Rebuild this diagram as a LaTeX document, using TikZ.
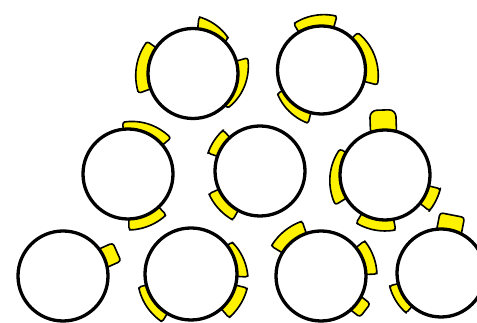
\documentclass[tikz,border=0pt]{standalone}
\begin{document}
\begin{tikzpicture}[x=1pt,y=1pt,
  ring/.style={draw=black,line width=3.3pt,fill=white},
  blobfill/.style={fill=yellow,draw=black,line width=1.6pt,line join=round,rounded corners=2.5pt}]
% one yellow patch on the rim of the current ring: start angle, end angle,
% thickness at start, thickness at end
\newcommand\blobpart[4]{%
  \filldraw[blobfill]
    plot[domain=#1:#2,samples=14,variable=\a] (\a:{\R+#3+(#4-#3)*(\a-(#1))/((#2)-(#1))})
    -- plot[domain=#2:#1,samples=14,variable=\a] (\a:{\R-2}) -- cycle;}
% a tab standing out from the rim: angle, width, height above rim, corner radius
\newcommand\tabpart[4]{%
  \begin{scope}[rotate=#1-90]
    \filldraw[blobfill,rounded corners=#4pt]
      (-#2/2,\R-6) -- (-#2/2,\R+#3) -- (#2/2,\R+#3) -- (#2/2,\R-6) -- cycle;
  \end{scope}}
\useasboundingbox (0,0) rectangle (477,323);
\fill[white] (0,0) rectangle (477,323);
\clip (0,0) rectangle (477,323);

% top row
\begin{scope}[shift={(193,249.5)}]
  \def\R{45}
  \blobpart{45}{84}{5}{12}
  \blobpart{145}{200}{11}{13}
  \blobpart{-45}{16}{4}{12}
  \draw[ring] (0,0) circle[radius=\R pt];
\end{scope}
\begin{scope}[shift={(321.5,253)}]
  \def\R{44}
  \blobpart{74}{121}{12}{10}
  \blobpart{-15}{46}{14}{8}
  \blobpart{208}{256}{6}{11}
  \draw[ring] (0,0) circle[radius=\R pt];
\end{scope}

% middle row
\begin{scope}[shift={(128,149)}]
  \def\R{45}
  \blobpart{40}{96}{11}{7}
  \blobpart{-89}{-47}{11}{11}
  \draw[ring] (0,0) circle[radius=\R pt];
\end{scope}
\begin{scope}[shift={(260,152)}]
  \def\R{45}
  \blobpart{132}{161}{10}{10}
  \blobpart{204}{241}{11}{11}
  \draw[ring] (0,0) circle[radius=\R pt];
\end{scope}
\begin{scope}[shift={(385,148)}]
  \def\R{45}
  \tabpart{92}{26}{20}{7}
  \blobpart{150}{211}{7}{13}
  \blobpart{-39}{-14}{12}{12}
  \blobpart{239}{281}{11}{11}
  \draw[ring] (0,0) circle[radius=\R pt];
\end{scope}

% bottom row
\begin{scope}[shift={(63,47)}]
  \def\R{45}
  \tabpart{24}{20}{14}{3}
  \draw[ring] (0,0) circle[radius=\R pt];
\end{scope}
\begin{scope}[shift={(191,49)}]
  \def\R{46}
  \blobpart{-3}{38}{11}{6}
  \blobpart{-49}{-14}{12}{12}
  \blobpart{194}{239}{8}{10}
  \draw[ring] (0,0) circle[radius=\R pt];
\end{scope}
\begin{scope}[shift={(321,47)}]
  \def\R{45}
  \blobpart{109}{149}{13}{13}
  \blobpart{2}{39}{11}{11}
  \tabpart{-38}{17}{11}{3}
  \draw[ring] (0,0) circle[radius=\R pt];
\end{scope}
\begin{scope}[shift={(441,50)}]
  \def\R{44}
  \tabpart{79}{25}{15}{3}
  \blobpart{194}{229}{9}{9}
  \draw[ring] (0,0) circle[radius=\R pt];
\end{scope}
\end{tikzpicture}
\end{document}
